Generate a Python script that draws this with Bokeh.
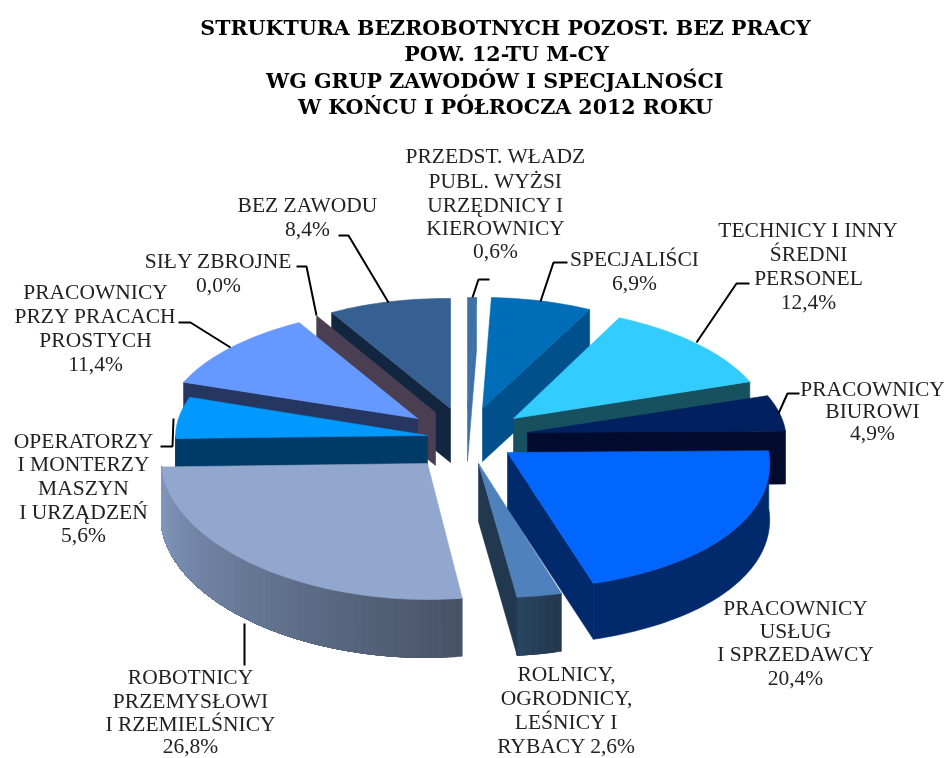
import math
from bokeh.plotting import figure
from bokeh.models import ColumnDataSource, Range1d
from bokeh.core.properties import value
from bokeh.embed import file_html
from bokeh.resources import INLINE

# ---- data ----
categories = ["PRZEDST. WLADZ", "SPECJALISCI", "TECHNICY", "BIUROWI", "USLUGI", "ROLNICY",
              "ROBOTNICY", "OPERATORZY", "PROSTE", "SILY ZBROJNE", "BEZ ZAWODU"]
values = [0.6, 6.9, 12.4, 4.9, 20.4, 2.6, 26.8, 5.6, 11.4, 0.0, 8.4]
title_lines = ["STRUKTURA BEZROBOTNYCH POZOST. BEZ PRACY", "POW. 12-TU M-CY",
               "WG GRUP  ZAWODÓW  I  SPECJALNOŚCI", "W KOŃCU I PÓŁROCZA 2012 ROKU"]
label_lines = [
    ["PRZEDST. WŁADZ", "PUBL. WYŻSI", "URZĘDNICY I", "KIEROWNICY", "0,6%"],
    ["SPECJALIŚCI", "6,9%"],
    ["TECHNICY I INNY", "ŚREDNI", "PERSONEL", "12,4%"],
    ["PRACOWNICY", "BIUROWI", "4,9%"],
    ["PRACOWNICY", "USŁUG", "I SPRZEDAWCY", "20,4%"],
    ["ROLNICY,", "OGRODNICY,", "LEŚNICY I", "RYBACY 2,6%"],
    ["ROBOTNICY", "PRZEMYSŁOWI", "I RZEMIELŚNICY", "26,8%"],
    ["OPERATORZY", "I MONTERZY", "MASZYN", "I URZĄDZEŃ", "5,6%"],
    ["PRACOWNICY", "PRZY PRACACH", "PROSTYCH", "11,4%"],
    ["SIŁY ZBROJNE", "0,0%"],
    ["BEZ ZAWODU", "8,4%"],
]

# ---- layout: slice apex on the page, projected radii at slice start/end, thickness ----
tip_x = [467, 482, 513, 527, 507, 478, 427, 427, 417, 435, 450]
tip_y = [408, 408, 418, 432, 452, 463, 463, 435, 418, 412, 408]
rx_a = [238, 236, 233, 253, 261, 279, 252, 252, 247, 236, 236]
rx_b = [238, 236, 249, 258, 289, 280, 266, 251, 235, 236, 238]
ry_a = [111, 111, 113, 117, 137, 136, 136, 119, 113, 112, 111]
ry_b = [111, 111, 117, 117, 137, 135, 136, 119, 111, 112, 110]
depth = [53, 53, 53, 53, 56, 58, 58, 53, 53, 53, 54]
draw_order = [10, 9, 8, 7, 0, 1, 2, 3, 5, 4, 6]

top_col = ["#3E70A8", "#006DB8", "#33CCFF", "#002060", "#0066FF", "#4F81BD",
           "#92A7CE", "#0099FF", "#6699FF", "#4A3F52", "#366092"]
side_col = ["#3E70A8", "#00508C", "#17505F", "#000B2E", "#002A6C", "#22384F",
            "#485468", "#003A66", "#253660", "#4A3F52", "#132640"]
arc_a = ["#3E70A8", "#00508C", "#17505F", "#000B2E", "#002A6C", "#22384F",
         "#465266", "#003A66", "#253660", "#4A3F52", "#132640"]
arc_b = ["#3E70A8", "#00508C", "#17505F", "#000B2E", "#002A6C", "#2A4560",
         "#8399BE", "#003A66", "#253660", "#4A3F52", "#132640"]

label_x = [495, 634, 808, 872, 795, 566, 190, 83, 95, 218, 307]
label_y = [[155, 180, 204, 227, 250], [258, 282], [229, 253, 277, 301], [388, 410, 432],
           [607, 630, 653, 677], [673, 697, 721, 745], [676, 700, 723, 745],
           [440, 463, 487, 511, 534], [291, 315, 339, 363], [260, 284], [204, 228]]
leader_x = [[472, 478, 489], [540, 553, 567], [696, 736, 749], [778, 787, 799], [244, 244],
            [173, 172, 160], [230, 190, 178], [316, 306, 296], [388, 348, 338]]
leader_y = [[297, 279, 279], [301, 262, 262], [342, 283, 283], [413, 393, 393], [623, 665],
            [418, 446, 446], [347, 322, 322], [315, 266, 266], [302, 235, 235]]
title_x = [505, 506, 505, 505]
title_y = [27, 53, 80, 106]


def mix(c1, c2, t):
    a = [int(c1[i:i + 2], 16) for i in (1, 3, 5)]
    b = [int(c2[i:i + 2], 16) for i in (1, 3, 5)]
    return "#%02x%02x%02x" % tuple(round(u + (v - u) * t) for u, v in zip(a, b))


# cumulative angles, clockwise from the top
total = sum(values)
starts, ends, acc = [], [], 0.0
for v in values:
    starts.append(acc / total * 360)
    acc += v
    ends.append(acc / total * 360)

xs, ys, cols = [], [], []


def add(px, py, c):
    xs.append(px)
    ys.append(py)
    cols.append(c)


def rim(i, th):
    span = ends[i] - starts[i]
    t = (th - starts[i]) / span if span else 0.0
    rx = rx_a[i] + (rx_b[i] - rx_a[i]) * t
    ry = ry_a[i] + (ry_b[i] - ry_a[i]) * t
    r = math.radians(th)
    return tip_x[i] + rx * math.sin(r), tip_y[i] - ry * math.cos(r)


def band(i, t0, t1, d, c):
    """Curved wall between two angles, as one polygon."""
    n = max(2, int((t1 - t0) / 1.5))
    pts = [rim(i, t0 + (t1 - t0) * k / n) for k in range(n + 1)]
    add([q[0] for q in pts] + [q[0] for q in reversed(pts)],
        [q[1] for q in pts] + [q[1] + d for q in reversed(pts)], c)


for i in draw_order:
    a, b, d = starts[i], ends[i], depth[i]
    # radial walls
    if 0 < b < 180:
        ox, oy = rim(i, b)
        add([tip_x[i], ox, ox, tip_x[i]], [tip_y[i], oy, oy + d, tip_y[i] + d], side_col[i])
    if 180 < a < 360:
        ox, oy = rim(i, a)
        add([tip_x[i], ox, ox, tip_x[i]], [tip_y[i], oy, oy + d, tip_y[i] + d], side_col[i])
    # outer curved wall: each shade runs to the far end, so later shades overlap earlier ones
    lo, hi = max(a, 90.0), min(b, 270.0)
    if hi > lo:
        if arc_a[i] == arc_b[i]:
            band(i, lo, hi, d, arc_a[i])
        else:
            n = max(2, int((hi - lo) / 1.5))
            for k in range(n):
                band(i, lo + (hi - lo) * k / n, hi, d, mix(arc_a[i], arc_b[i], (k + .5) / n))
    # top face
    if b > a:
        n = max(2, int((b - a) / 1.5))
        pts = [rim(i, a + (b - a) * k / n) for k in range(n + 1)]
        add([tip_x[i]] + [q[0] for q in pts], [tip_y[i]] + [q[1] for q in pts], top_col[i])

p = figure(width=944, height=758, x_range=Range1d(0, 944), y_range=Range1d(758, 0),
           output_backend="svg", toolbar_location=None, min_border=0,
           background_fill_color="white", border_fill_color="white", outline_line_color=None)
p.axis.visible = False
p.grid.visible = False
p.styles = {"position": "fixed", "left": "0", "top": "0"}

p.patches("x", "y", source=ColumnDataSource(dict(x=xs, y=ys, c=cols)),
          fill_color="c", line_color="c", line_width=0.6)
p.multi_line(leader_x, leader_y, line_color="#000000", line_width=2)

lx, ly, lt = [], [], []
for i, lines in enumerate(label_lines):
    for s, y in zip(lines, label_y[i]):
        lx.append(label_x[i])
        ly.append(y)
        lt.append(s)
p.text("x", "y", text="t", source=ColumnDataSource(dict(x=lx, y=ly, t=lt)),
       text_font=value("Liberation Serif"), text_font_size="21.5px", text_color="#222222",
       text_align="center", text_baseline="middle")
p.text("x", "y", text="t", source=ColumnDataSource(dict(x=title_x, y=title_y, t=title_lines)),
       text_font=value("DejaVu Serif"), text_font_style="bold", text_font_size="20.6px",
       text_color="#000000", text_align="center", text_baseline="middle")

open("out.html", "w").write(file_html(p, INLINE))
